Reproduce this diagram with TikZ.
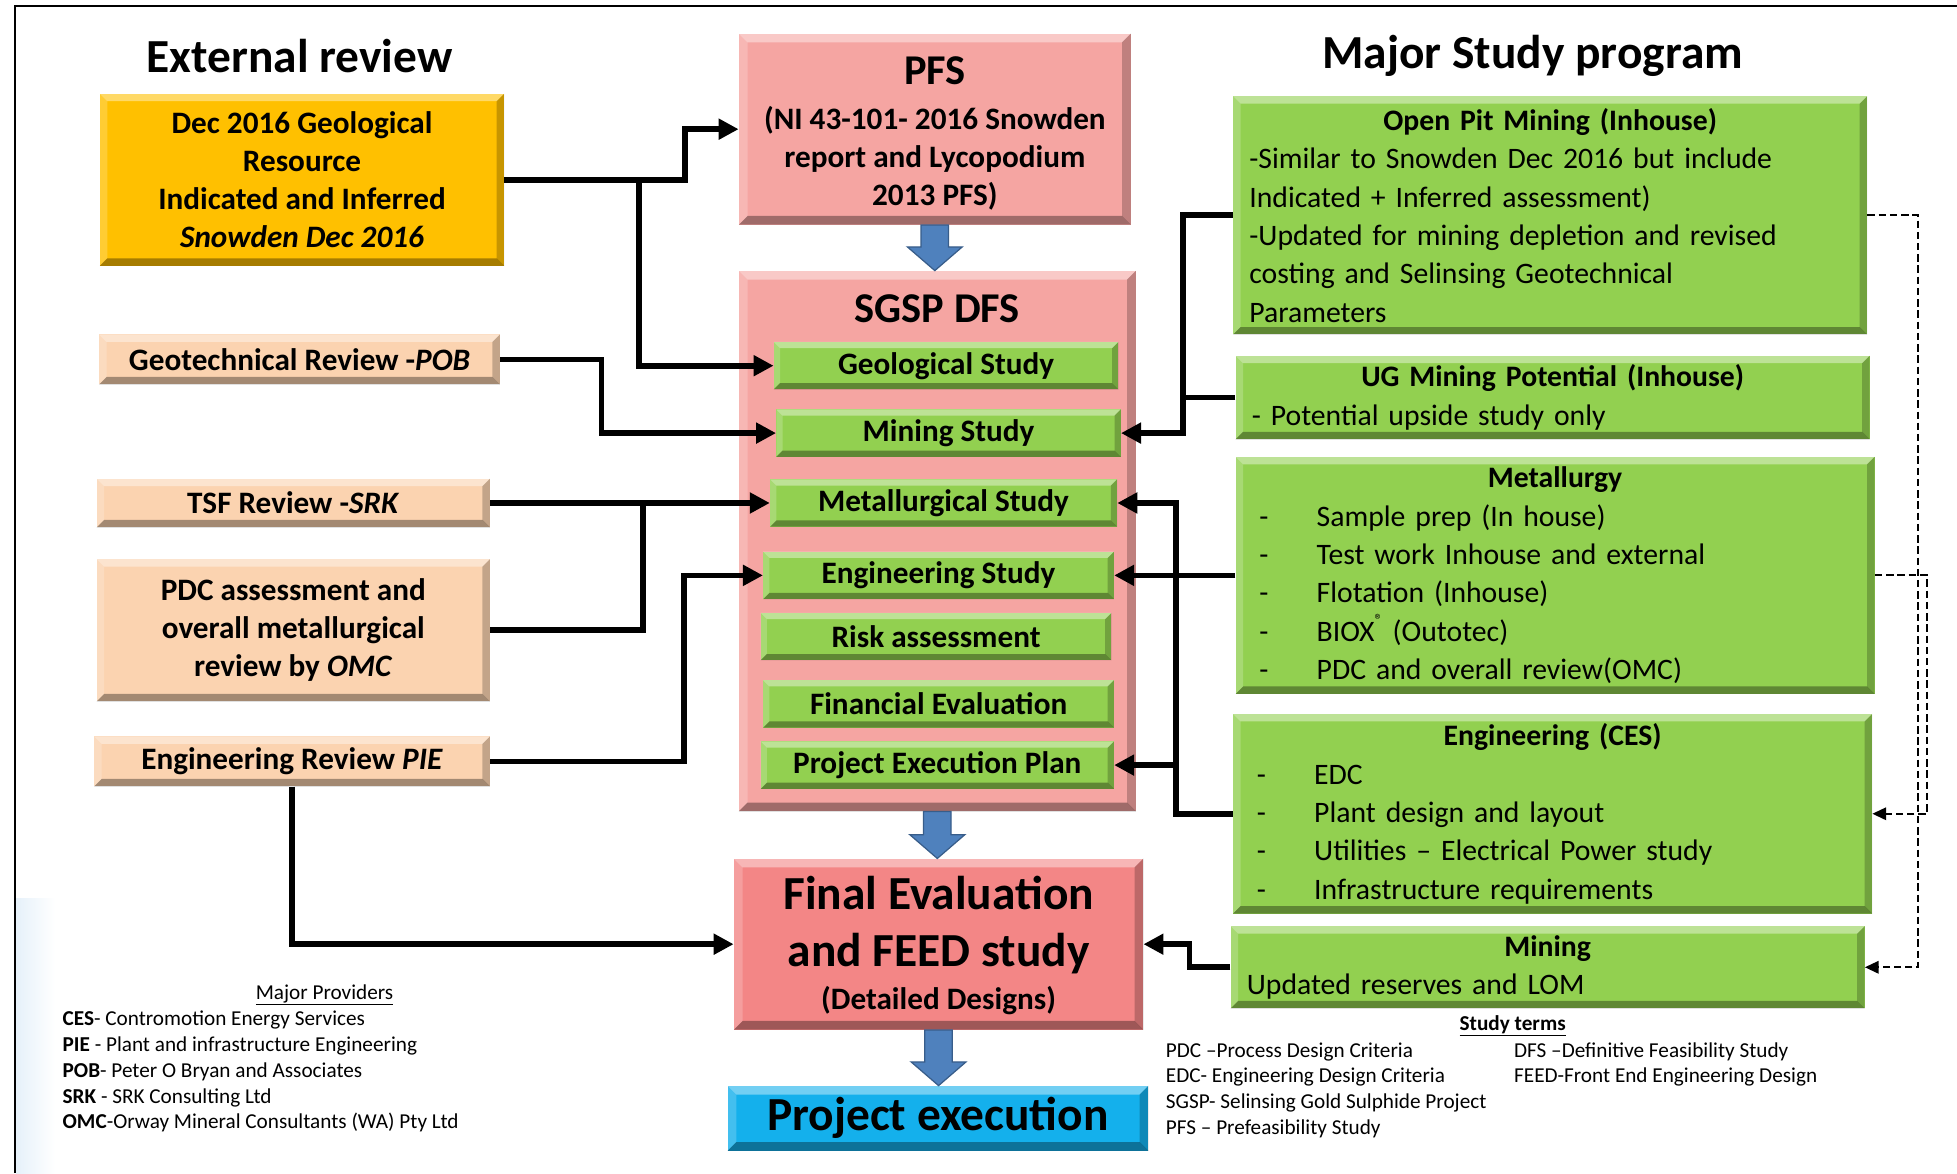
\documentclass[tikz,border=0pt]{standalone}
\usepackage{fontspec}
\setmainfont{Carlito}
\usetikzlibrary{positioning,arrows.meta,calc}

\definecolor{gold}{RGB}{255,192,0}
\definecolor{peach}{RGB}{251,211,176}
\definecolor{salmon}{RGB}{245,165,162}
\definecolor{feedred}{RGB}{243,134,134}
\definecolor{leaf}{RGB}{146,208,80}
\definecolor{sky}{RGB}{20,176,236}
\definecolor{arrowblue}{RGB}{79,129,189}
\definecolor{arrowedge}{RGB}{56,93,138}
\definecolor{paleblue}{RGB}{230,241,250}

% dash in front of the programme items
\newcommand\listdash{\hspace*{6pt}\makebox[46pt][l]{-}}

% fat blue arrow from one stage down to the next
\newcommand\blockdown[2]{%
  \path[fill=arrowblue, draw=arrowedge, line width=1pt] let \p1=(#1.south), \p2=(#2.north) in
    (\x1-11pt,\y1) -- (\x1+11pt,\y1) -- (\x1+11pt,\y2+19pt) -- (\x1+22pt,\y2+19pt)
    -- (\x1,\y2) -- (\x1-22pt,\y2+19pt) -- (\x1-11pt,\y2+19pt) -- cycle;}

\tikzset{
  bevel/.style={path picture={
      \fill[white,opacity=.4] (path picture bounding box.north west) -- (path picture bounding box.north east)
        -- ([shift={(-#1,-#1)}]path picture bounding box.north east) -- ([shift={(#1,-#1)}]path picture bounding box.north west) -- cycle;
      \fill[white,opacity=.2] (path picture bounding box.north west) -- ([shift={(#1,-#1)}]path picture bounding box.north west)
        -- ([shift={(#1,#1)}]path picture bounding box.south west) -- (path picture bounding box.south west) -- cycle;
      \fill[black,opacity=.22] (path picture bounding box.north east) -- (path picture bounding box.south east)
        -- ([shift={(-#1,#1)}]path picture bounding box.south east) -- ([shift={(-#1,-#1)}]path picture bounding box.north east) -- cycle;
      \fill[black,opacity=.35] (path picture bounding box.south west) -- (path picture bounding box.south east)
        -- ([shift={(-#1,#1)}]path picture bounding box.south east) -- ([shift={(#1,#1)}]path picture bounding box.south west) -- cycle;
    }},
  bevel/.default=6pt,
  headfont/.style={font=\bfseries\fontsize{38}{46}\selectfont},
  titlefont/.style={font=\bfseries\fontsize{34}{40}\selectfont},
  bodyfont/.style={font=\bfseries\fontsize{25}{30.5}\selectfont},
  plainfont/.style={font=\fontsize{23.8}{30.7}\selectfont},
  notefont/.style={font=\fontsize{17}{20.6}\selectfont},
  revbox/.style={bevel, fill=peach, inner sep=0pt, align=center, bodyfont},
  stagebox/.style={bevel=7pt, fill=salmon, inner sep=0pt, align=center},
  studybox/.style={bevel=5pt, fill=leaf, inner sep=0pt, minimum height=38pt, bodyfont},
  progbox/.style={bevel, fill=leaf, inner xsep=13pt, inner ysep=0pt, align=left, plainfont},
  bus/.style={line width=4.5pt},
  flow/.style={bus, -{Triangle[length=16pt,width=16pt]}},
  dashflow/.style={line width=1.5pt, dash pattern=on 6pt off 3pt, -{Triangle[length=11pt,width=10pt]}}
}

\begin{document}
\begin{tikzpicture}[x=1pt,y=-1pt]
  \useasboundingbox (0,0) rectangle (1568,940);
  % slide edge
  \shade[left color=paleblue, right color=white] (13,720) rectangle (44,940);
  \draw[line width=1.8pt] (12,940) -- (12,5) -- (1568,5);

  % headings
  \node[headfont] (exthead) at (240,45) {External review};
  \node[headfont] (mainhead) at (1228,45) {Major Study program};

  % external reviews
  \node[revbox, fill=gold, minimum width=324pt, minimum height=138pt] (dec) at (242,144)
    {Dec 2016 Geological\\Resource\\Indicated and Inferred\\\textit{Snowden Dec 2016}};
  \node[revbox, minimum width=321pt, minimum height=40pt] (pob) at (240,288) {Geotechnical Review -\textit{POB}};
  \node[revbox, minimum width=315pt, minimum height=39pt] (srk) at (235,403) {TSF Review -\textit{SRK}};
  \node[revbox, minimum width=315pt, minimum height=114pt] (omc) at (235,505)
    {PDC assessment and\\overall metallurgical\\review by \textit{OMC}};
  \node[revbox, minimum width=317pt, minimum height=40pt] (pie) at (234,610) {Engineering Review \textit{PIE}};

  % study stages
  \node[stagebox, minimum width=314pt, minimum height=153pt] (pfs) at (749,103.5) {};
  \node[titlefont] (pfstitle) at (749,57) {PFS};
  \node[bodyfont, align=center] (pfstext) at (749,127) {(NI 43-101- 2016 Snowden\\report and Lycopodium\\2013 PFS)};

  \node[stagebox, minimum width=318pt, minimum height=433pt] (sgsp) at (751,433.5) {};
  \node[titlefont] (sgsptitle) at (751,247) {SGSP DFS};
  \node[studybox, minimum width=276pt] (geostudy) at (758,293) {Geological Study};
  \node[studybox, minimum width=276pt] (minestudy) at (760,347) {Mining Study};
  \node[studybox, minimum width=278pt] (metstudy) at (756,403) {Metallurgical Study};
  \node[studybox, minimum width=281pt] (engstudy) at (752,461) {Engineering Study};
  \node[studybox, minimum width=281pt] (risk) at (750,510) {Risk assessment};
  \node[studybox, minimum width=281pt] (finance) at (752,564) {Financial Evaluation};
  \node[studybox, minimum width=283pt] (pep) at (751,613) {Project Execution Plan};

  \node[stagebox, fill=feedred, minimum width=328pt, minimum height=137pt] (final) at (752,756.5) {};
  \node[headfont, align=center] (finaltitle) at (752,741) {Final Evaluation\\and FEED study};
  \node[bodyfont] (finalnote) at (752,802) {(Detailed Designs)};

  \node[stagebox, fill=sky, headfont, minimum width=337pt, minimum height=52pt] (exec) at (751.5,896) {Project execution};

  \blockdown{pfs}{sgsp}
  \blockdown{sgsp}{final}
  \blockdown{final}{exec}

  % in-house programme
  \node[progbox, text width=482pt, minimum height=191pt] (openpit) at (1242,172.5)
    {\hfill\textbf{Open Pit Mining (Inhouse)}\hfill\null\\-Similar to Snowden Dec 2016 but include\\Indicated + Inferred assessment)\\-Updated for mining depletion and revised\\costing and Selinsing Geotechnical\\Parameters};
  \node[progbox, text width=482pt, minimum height=67pt] (ug) at (1244,318.5)
    {\hfill\textbf{UG Mining Potential (Inhouse)}\hfill\null\\- Potential upside study only};
  \node[progbox, text width=486pt, minimum height=190pt] (metal) at (1246,461)
    {\hfill\textbf{Metallurgy}\hfill\null\\\listdash Sample prep (In house)\\\listdash Test work Inhouse and external\\\listdash Flotation (Inhouse)\\\listdash BIOX\raisebox{1.1ex}{\fontsize{13}{13}\selectfont ®} (Outotec)\\\listdash PDC and overall review(OMC)};
  \node[progbox, text width=486pt, minimum height=160pt] (engces) at (1244,652)
    {\hfill\textbf{Engineering (CES)}\hfill\null\\\listdash EDC\\\listdash Plant design and layout\\\listdash Utilities – Electrical Power study\\\listdash Infrastructure requirements};
  \node[progbox, text width=482pt, minimum height=66pt] (mining) at (1240,775)
    {\hfill\textbf{Mining}\hfill\null\\Updated reserves and LOM};

  % joints of the connectors
  \coordinate (decjoin) at (549,144);
  \coordinate (geojoin) at (512,144);
  \coordinate (pobjoin) at (482,288);
  \coordinate (omcjoin) at (515,403);
  \coordinate (piejoin) at (548,610);
  \coordinate (upbus) at (948,0);
  \coordinate (lowbus) at (942,0);
  \coordinate (minebus) at (953,0);
  \coordinate (dashbus1) at (1537,0);
  \coordinate (dashbus2) at (1544,0);

  % reviews into the studies
  \draw[flow] (dec.east) -- (decjoin) |- (pfs.west);
  \draw[flow] (geojoin) |- (geostudy.west);
  \draw[flow] (pob.east) -- (pobjoin) |- (minestudy.west);
  \draw[flow] (srk.east) -- (metstudy.west);
  \draw[bus] (omc.east) -| (omcjoin);
  \draw[flow] (pie.east) -- (piejoin) |- (engstudy.west);
  \draw[flow] (pie.south) |- (final.west);

  % programme into the studies
  \draw[flow] (openpit.west) -| (upbus |- minestudy.east) -- (minestudy.east);
  \draw[bus] (ug.west) -- (ug.west -| upbus);
  \draw[flow] (metal.west) -- (engstudy.east);
  \draw[flow] (engstudy.east -| lowbus) |- (metstudy.east);
  \draw[bus] (engces.west) -| (lowbus |- engstudy.east);
  \draw[flow] (pep.east -| lowbus) -- (pep.east);
  \draw[flow] (mining.west) -| (minebus |- final.east) -- (final.east);

  % feedback inside the programme
  \draw[dashflow] (openpit.east) -| (dashbus1 |- mining.east) -- (mining.east);
  \draw[dashflow] (metal.east) -| (dashbus2 |- engces.east) -- (engces.east);

  % abbreviations
  \node[notefont] (provtitle) at (260,797) {\underline{Major Providers}};
  \node[notefont, align=left, anchor=north west, inner sep=0pt] (providers) at (50,810)
    {\textbf{CES}- Contromotion Energy Services\\\textbf{PIE} - Plant and infrastructure Engineering\\\textbf{POB}- Peter O Bryan and Associates\\\textbf{SRK} - SRK Consulting Ltd\\\textbf{OMC}-Orway Mineral Consultants (WA) Pty Ltd};
  \node[notefont] (termtitle) at (1212,822) {\textbf{\underline{Study terms}}};
  \node[notefont, align=left, anchor=north west, inner sep=0pt] (termsa) at (934,835)
    {PDC –Process Design Criteria\\EDC- Engineering Design Criteria\\SGSP- Selinsing Gold Sulphide Project\\PFS – Prefeasibility Study};
  \node[notefont, align=left, anchor=north west, inner sep=0pt] (termsb) at (1213,835)
    {DFS –Definitive Feasibility Study\\FEED-Front End Engineering Design};
\end{tikzpicture}
\end{document}
